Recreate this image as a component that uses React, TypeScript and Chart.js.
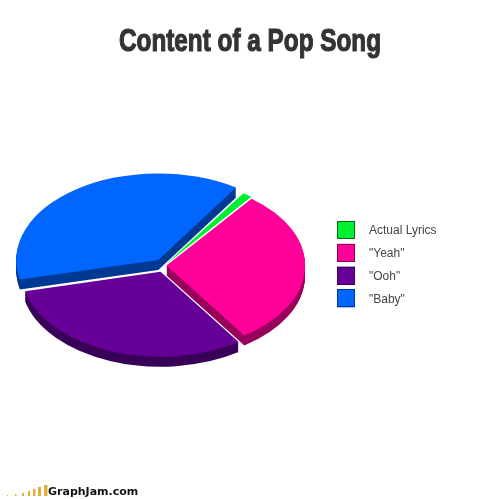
import React, { useEffect, useRef } from 'react';
import { Chart, registerables } from 'chart.js';

Chart.register(...registerables);

// values (percent of the song)
const categories = ['Actual Lyrics', '"Yeah"', '"Ooh"', '"Baby"'];
const shares = [1.2, 30, 30.8, 38];
const topColors = ['#00f030', '#ff0099', '#660099', '#0066ff'];
const wallColors = ['#00a020', '#99005c', '#3a0058', '#003a94'];
const legendBorders = ['#006a14', '#8a0050', '#3a0058', '#003a94'];
const explode = [8, 8, 44, 44];
const wallDepth = [0, 10, 10, 10];
const footerBars = [1, 2, 3, 5, 7, 9, 11];
const footerBarX = [7, 15, 22, 28, 33, 38, 44];
const footerBarW = [1, 1.5, 2, 2, 2.5, 3, 3.5];

const SQUASH = 0.61;
const PIE_CENTER_Y = 265.5;
const TITLE = 'Content of a Pop Song';

// draws the pie flattened with a fake 3D wall; replaces the normal dataset draw
const flatPie = {
  id: 'flatPie',
  beforeDatasetsDraw(chart: any) {
    const ctx = chart.ctx;
    const arcs = chart.getDatasetMeta(0).data;
    const first = arcs[0];
    const order = [3, 0, 2, 1];

    ctx.save();
    ctx.translate(first.x, PIE_CENTER_Y);
    ctx.scale(1, SQUASH);
    ctx.translate(-first.x, -first.y);

    order.forEach((i) => {
      const arc = arcs[i];
      const orig = arc.options;
      arc.options = { ...orig, backgroundColor: wallColors[i] };
      for (let d = wallDepth[i]; d > 0; d--) {
        ctx.save();
        ctx.translate(0, d / SQUASH);
        arc.draw(ctx);
        ctx.restore();
      }
      arc.options = orig;
      arc.draw(ctx);
    });
    ctx.restore();
    return false;
  },
};

// the title font is an Impact look-alike: squeezed and thickened Liberation Sans
const heavyTitle = {
  id: 'heavyTitle',
  afterDraw(chart: any) {
    const ctx = chart.ctx;
    ctx.save();
    ctx.translate(250, 51);
    ctx.scale(0.76, 1);
    ctx.font = 'bold 32px "Liberation Sans"';
    ctx.textAlign = 'center';
    ctx.textBaseline = 'alphabetic';
    ctx.fillStyle = '#333333';
    ctx.strokeStyle = '#333333';
    ctx.lineWidth = 1.2;
    ctx.fillText(TITLE, 0, 0);
    ctx.strokeText(TITLE, 0, 0);
    ctx.restore();
  },
};

// legend needs a wider gap between box and text than the stock one allows
const sideLegend = {
  id: 'sideLegend',
  afterDraw(chart: any) {
    const ctx = chart.ctx;
    ctx.save();
    ctx.font = '12px "Liberation Sans"';
    ctx.textBaseline = 'middle';
    categories.forEach((label, i) => {
      const y = 221 + i * 22.8;
      ctx.fillStyle = topColors[i];
      ctx.fillRect(337, y, 18, 18);
      ctx.strokeStyle = legendBorders[i];
      ctx.lineWidth = 1;
      ctx.strokeRect(337.5, Math.round(y) + 0.5, 17, 17);
      ctx.fillStyle = '#444444';
      ctx.fillText(label, 369, y + 10);
    });
    ctx.restore();
  },
};

const footer = {
  id: 'footer',
  afterDraw(chart: any) {
    const ctx = chart.ctx;
    ctx.save();
    footerBars.forEach((h, i) => {
      ctx.fillStyle = '#e2ae3c';
      ctx.fillRect(footerBarX[i], 496 - h, footerBarW[i], h);
    });
    ctx.fillStyle = '#111111';
    ctx.font = 'bold 11px "DejaVu Sans"';
    ctx.textBaseline = 'alphabetic';
    ctx.fillText('GraphJam.com', 48, 495);
    ctx.restore();
  },
};

const App: React.FC = () => {
  const chartRef = useRef<HTMLCanvasElement>(null);

  useEffect(() => {
    if (!chartRef.current) return;
    const chart = new Chart(chartRef.current, {
      type: 'pie',
      data: {
        labels: categories,
        datasets: [
          {
            data: shares,
            backgroundColor: topColors,
            borderWidth: 0,
            offset: explode,
          },
        ],
      },
      options: {
        responsive: false,
        animation: false,
        rotation: 33.5,
        layout: { padding: { left: 4, right: 179, top: 70, bottom: 0 } },
        plugins: {
          legend: { display: false },
          tooltip: { enabled: false },
          title: { display: false },
        },
      },
      plugins: [flatPie, heavyTitle, sideLegend, footer],
    });
    return () => chart.destroy();
  }, []);

  return (
    <div style={{ position: 'absolute', left: 0, top: 0, width: 504, height: 499, background: '#fff' }}>
      <canvas ref={chartRef} width={504} height={499} style={{ display: 'block' }} />
    </div>
  );
};

export default App;
